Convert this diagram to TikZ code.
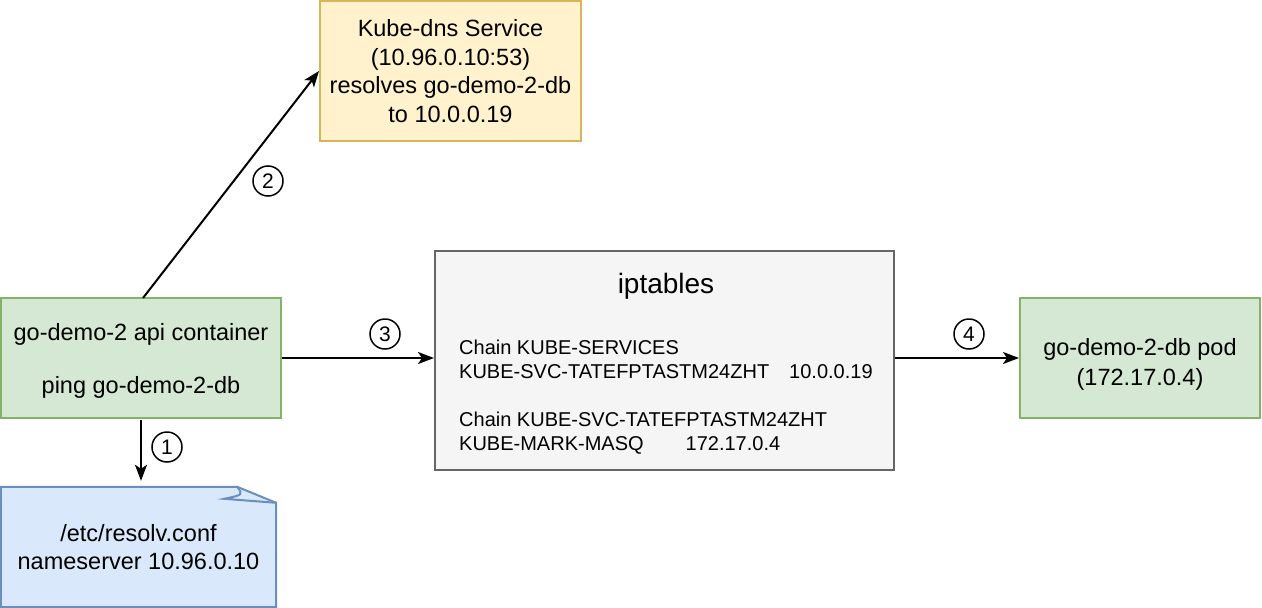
\documentclass[tikz,border=0pt]{standalone}
\usepackage{fontspec}
\setmainfont{Liberation Sans}
\usetikzlibrary{arrows.meta,positioning}
\definecolor{gfill}{HTML}{D5E8D4}
\definecolor{gline}{HTML}{82B366}
\definecolor{yfill}{HTML}{FFF2CC}
\definecolor{yline}{HTML}{D6B656}
\definecolor{pfill}{HTML}{F5F5F5}
\definecolor{pline}{HTML}{666666}
\definecolor{bfill}{HTML}{DAE8FC}
\definecolor{bline}{HTML}{6C8EBF}
\tikzset{
  box/.style={rectangle, line width=2pt, inner sep=0pt, align=center,
    font=\fontsize{23.5}{28.7}\selectfont, text=black},
  greenbox/.style={box, fill=gfill, draw=gline},
  num/.style={circle, draw=black, line width=1.5pt, minimum size=30pt, inner sep=0pt,
    font=\fontsize{21}{21}\selectfont},
  conn/.style={line width=2pt, -{Stealth[length=16pt,width=12pt,inset=4pt]}},
  lbl/.style={inner sep=0pt, font=\fontsize{23.5}{28}\selectfont, text=black},
  chain/.style={anchor=west, inner sep=0pt, font=\fontsize{20}{24}\selectfont, align=left, text=black},
}
\begin{document}
\begin{tikzpicture}[x=1pt,y=-1pt]
\useasboundingbox (0,0) rectangle (1262,608);
% api container
\node[greenbox, minimum width=280pt, minimum height=120pt] (api) at (141,358) {};
\node[lbl] (apit1) at (141,334) {go-demo-2 api container};
\node[lbl] (apit2) at (141,387) {ping go-demo-2-db};
% kube-dns
\node[box, fill=yfill, draw=yline, minimum width=261pt, minimum height=140pt] (dns) at (450.5,71)
  {Kube-dns Service\\(10.96.0.10:53)\\resolves go-demo-2-db\\to 10.0.0.19};
% iptables
\node[box, fill=pfill, draw=pline, minimum width=459pt, minimum height=219pt] (ipt) at (664.5,360.5) {};
\node[inner sep=0pt, font=\fontsize{28}{28}\selectfont, text=black] (iptt) at (666,286) {iptables};
\node[chain] (c1) at (459,359) {Chain KUBE-SERVICES\\KUBE-SVC-TATEFPTASTM24ZHT\hspace{20pt}10.0.0.19};
\node[chain] (c2) at (459,433) {Chain KUBE-SVC-TATEFPTASTM24ZHT\\KUBE-MARK-MASQ\hspace{42pt}172.17.0.4};
% db pod
\node[greenbox, minimum width=240pt, minimum height=120pt] (db) at (1140,358) {};
\node[lbl, align=center, font=\fontsize{23.5}{30}\selectfont] (dbt) at (1140,364) {go-demo-2-db pod\\(172.17.0.4)};
% note
\node[inner sep=0pt, minimum width=275pt, minimum height=120pt] (note) at (138.5,547) {};
\draw[line width=2pt, draw=bline, fill=bfill]
  (note.north west) -- ([xshift=-39pt]note.north east) -- ([yshift=-16pt]note.north east)
  -- (note.south east) -- (note.south west) -- cycle;
\draw[line width=2pt, draw=bline]
  ([xshift=-39pt]note.north east) .. controls ([xshift=-33pt,yshift=-8pt]note.north east) .. ([xshift=-52pt,yshift=-12pt]note.north east)
  -- ([yshift=-16pt]note.north east);
\node[align=center, lbl] (notet) at (note.center) {/etc/resolv.conf\\nameserver 10.96.0.10};
% connectors
\coordinate (a2) at (143,298);
\draw[conn] (a2) -- (dns.west);
\draw[conn] (api.east) -- (ipt.west |- api.east);
\draw[conn] (ipt.east |- db.west) -- (db.west);
\coordinate (a1) at (141,420);
\draw[conn] (a1) -- ([xshift=2.5pt,yshift=6pt]note.north);
% numbers
\node[num] (n1) at (167,447) {1};
\node[num] (n2) at (268,181) {2};
\node[num] (n3) at (385,334) {3};
\node[num] (n4) at (969,334) {4};
\end{tikzpicture}
\end{document}
